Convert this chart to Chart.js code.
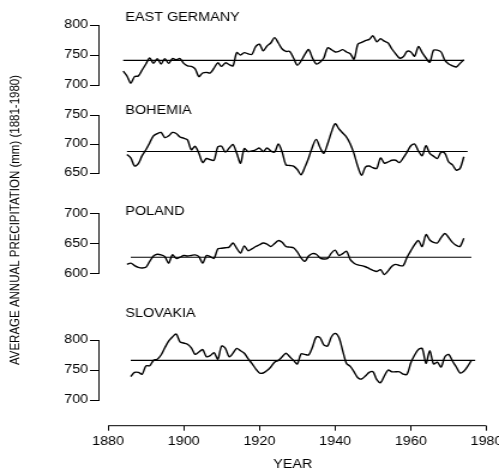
<!DOCTYPE html>
<html>
<head>
<meta charset="utf-8">
<script src="https://cdn.jsdelivr.net/npm/chart.js"></script>
<style>
    html, body { margin: 0; padding: 0; background: #fff; overflow: hidden; }
    /* figura original é mais larga que alta nas letras: estica na horizontal */
    #moldura { width: 416px; height: 475px; transform: scaleX(1.1995); transform-origin: 0 0; }
</style>
</head>
<body>
<div id="moldura"><canvas id="precipitacaoChart" width="416" height="475"></canvas></div>
<script>
const anos = [1880, 1900, 1920, 1940, 1960, 1980];
const regioes = ['EAST GERMANY', 'BOHEMIA', 'POLAND', 'SLOVAKIA'];
const ticksY = [[700, 750, 800], [650, 700, 750], [600, 650, 700], [700, 750, 800]];

// primeiro ano de cada série (um valor por ano)
const inicioSerie = [1884, 1885, 1885, 1886];

const alemanhaOriental = [
    723, 715, 703, 714, 715, 725, 735, 745, 736, 744,
    735, 744, 736, 744, 742, 744, 736, 732, 731, 727,
    714, 720, 721, 720, 728, 737, 731, 737, 734, 732,
    754, 750, 754, 752, 751, 764, 768, 757, 765, 770,
    779, 770, 760, 756, 756, 745, 733, 740, 751, 759,
    745, 735, 738, 745, 762, 759, 755, 756, 759, 755,
    752, 743, 768, 771, 774, 776, 782, 772, 777, 773,
    770, 760, 752, 745, 747, 756, 755, 748, 764, 754,
    745, 738, 758, 758, 755, 741, 735, 732, 730, 736,
    742
];
const boemia = [
    682, 676, 662, 666, 680, 690, 702, 714, 718, 720,
    711, 714, 720, 718, 712, 710, 707, 690, 696, 684,
    668, 675, 673, 672, 695, 696, 686, 693, 699, 684,
    667, 692, 687, 688, 690, 693, 687, 693, 688, 686,
    700, 686, 664, 663, 662, 656, 647, 660, 676, 695,
    708, 694, 684, 700, 720, 735, 726, 719, 712, 700,
    683, 661, 646, 660, 662, 659, 658, 676, 667, 669,
    672, 672, 668, 676, 686, 697, 700, 688, 680, 697,
    684, 679, 675, 686, 684, 669, 664, 655, 658, 678
];
const polonia = [
    615, 617, 613, 610, 609, 610, 620, 629, 632, 631,
    628, 617, 631, 625, 627, 630, 629, 630, 631, 628,
    617, 630, 628, 625, 641, 642, 643, 644, 651, 642,
    634, 646, 638, 641, 645, 648, 651, 649, 645, 650,
    655, 652, 645, 644, 643, 636, 626, 620, 629, 633,
    632, 626, 624, 625, 634, 639, 630, 633, 637, 623,
    617, 614, 613, 611, 608, 605, 603, 606, 598, 604,
    612, 615, 613, 613, 627, 638, 648, 655, 645, 665,
    656, 652, 651, 660, 667, 660, 652, 647, 645, 659
];
const eslovaquia = [
    739, 746, 746, 743, 757, 757, 766, 768, 775, 787,
    798, 805, 810, 797, 795, 793, 787, 776, 780, 784,
    772, 774, 779, 768, 790, 786, 772, 778, 786, 782,
    778, 769, 761, 752, 745, 745, 749, 755, 763, 766,
    772, 778, 772, 766, 760, 777, 776, 775, 788, 805,
    804, 792, 790, 805, 811, 804, 782, 761, 756, 747,
    737, 735, 740, 746, 747, 734, 729, 740, 750, 747,
    747, 747, 743, 743, 762, 775, 784, 786, 761, 782,
    760, 763, 755, 772, 776, 765, 755, 745, 748, 756,
    766
];

// média 1881-1980 de cada região e o trecho onde a linha é traçada
const medias = [741, 687, 627, 766];
const mediaInicio = [1884, 1885, 1886, 1886];
const mediaFim = [1974, 1975, 1976, 1977];

const series = [alemanhaOriental, boemia, polonia, eslovaquia];
const fonte = "'Liberation Sans', Arial, sans-serif";

Chart.defaults.font.family = fonte;
Chart.defaults.color = '#000';

function eixoPainel(i, peso, altura) {
    return {
        type: 'linear',
        position: 'left',
        stack: 'paineis',
        stackWeight: altura,
        weight: peso,
        min: ticksY[i][0],
        max: ticksY[i][2],
        afterBuildTicks: (escala) => { escala.ticks = ticksY[i].map(v => ({ value: v })); },
        afterFit: (escala) => { escala.width = 40; escala.paddingTop = 0; escala.paddingBottom = 0; },
        border: { color: '#000', width: 1 },
        grid: { drawOnChartArea: false, tickLength: 7.5, color: '#000', lineWidth: 1 },
        ticks: { color: '#000', padding: 1.5, autoSkip: false, font: { size: 12 }, callback: v => String(v) }
    };
}

function espaco(peso, altura) {
    return { type: 'linear', position: 'left', stack: 'paineis', stackWeight: altura, weight: peso, display: false };
}

// nomes das regiões, título vertical e a linha do eixo X (só de 1880 a 1980)
const textosGrafico = {
    id: 'textosGrafico',
    afterDraw(chart) {
        const ctx = chart.ctx;
        const area = chart.chartArea;
        const alturasNomes = [18, 110.5, 211.5, 314];
        ctx.save();
        ctx.fillStyle = '#000';
        ctx.textBaseline = 'middle';
        ctx.font = '12px ' + fonte;
        regioes.forEach((nome, i) => ctx.fillText(nome, area.left + 22, alturasNomes[i]));

        const eixoX = chart.scales.x;
        ctx.strokeStyle = '#000';
        ctx.lineWidth = 1;
        ctx.beginPath();
        ctx.moveTo(eixoX.getPixelForValue(anos[0]), eixoX.top);
        ctx.lineTo(eixoX.getPixelForValue(anos[anos.length - 1]), eixoX.top);
        ctx.stroke();

        ctx.translate(12.5, 220);
        ctx.rotate(-Math.PI / 2);
        ctx.textAlign = 'center';
        ctx.font = '11.5px ' + fonte;
        ctx.fillText('AVERAGE ANNUAL PRECIPITATION (mm) (1881-1980)', 0, 0);
        ctx.restore();
    }
};

const conjuntos = [];
series.forEach((valores, i) => {
    conjuntos.push({
        data: valores.map((v, k) => ({ x: inicioSerie[i] + k, y: v })),
        yAxisID: 'y' + i,
        borderColor: '#000',
        borderWidth: 1.4,
        pointRadius: 0,
        tension: 0.3,
        clip: false
    });
    conjuntos.push({
        data: [{ x: mediaInicio[i], y: medias[i] }, { x: mediaFim[i], y: medias[i] }],
        yAxisID: 'y' + i,
        borderColor: '#000',
        borderWidth: 1.1,
        pointRadius: 0,
        clip: false
    });
});

document.addEventListener('DOMContentLoaded', function() {
    const ctx = document.getElementById('precipitacaoChart').getContext('2d');
    new Chart(ctx, {
        type: 'line',
        data: { datasets: conjuntos },
        plugins: [textosGrafico],
        options: {
            responsive: false,
            animation: false,
            devicePixelRatio: 1,
            layout: { padding: { left: 42.5, right: 10.4, top: 25, bottom: 0 } },
            plugins: { legend: { display: false }, tooltip: { enabled: false } },
            scales: {
                x: {
                    type: 'linear',
                    min: 1877.6,
                    max: 1980,
                    afterBuildTicks: (escala) => { escala.ticks = anos.map(v => ({ value: v })); },
                    afterFit: (escala) => { escala.height = 49.3; escala.paddingLeft = 0; escala.paddingRight = 0; },
                    border: { display: false },
                    grid: { drawOnChartArea: false, tickLength: 5, color: '#000', lineWidth: 1 },
                    ticks: { color: '#000', padding: 4, maxRotation: 0, autoSkip: false, font: { size: 12 }, callback: v => String(v) },
                    title: { display: true, text: 'YEAR', color: '#000', font: { size: 12 }, padding: { top: 4, bottom: 3 } }
                },
                y0: eixoPainel(0, 8, 60),
                g0: espaco(7, 30),
                y1: eixoPainel(1, 6, 58),
                g1: espaco(5, 40.8),
                y2: eixoPainel(2, 4, 59.5),
                g2: espaco(3, 66.7),
                y3: eixoPainel(3, 2, 60),
                g3: espaco(1, 25.7)
            }
        }
    });
});
</script>
</body>
</html>
